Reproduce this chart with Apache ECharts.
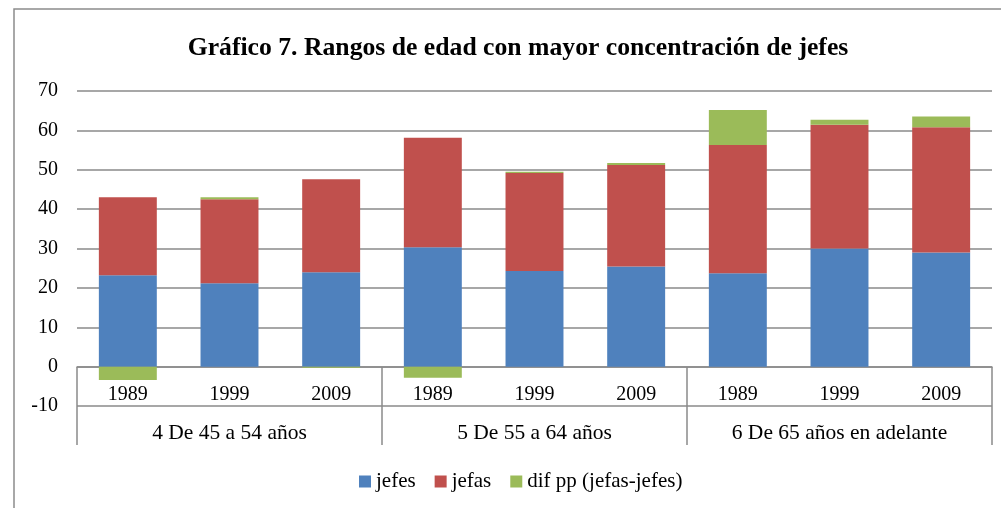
<!DOCTYPE html>
<html>
<head>
<meta charset="utf-8">
<script src="https://cdn.jsdelivr.net/npm/echarts@6/dist/echarts.min.js"></script>
<style>
  html, body { margin: 0; padding: 0; background: #fff; }
  #main { width: 1001px; height: 508px; }
</style>
</head>
<body>
<div id="main"></div>
<script>
var years = ['1989', '1999', '2009', '1989', '1999', '2009', '1989', '1999', '2009'];
var groups = ['4 De 45 a 54 años', '5 De 55 a 64 años', '6 De 65 años en adelante'];
var jefes = [23.2, 21.2, 24.0, 30.3, 24.3, 25.4, 23.7, 30.0, 29.0];
var jefas = [19.8, 21.3, 23.6, 27.8, 24.9, 25.8, 32.6, 31.4, 31.8];
var difpp = [-3.4, 0.5, -0.3, -2.8, 0.3, 0.5, 8.9, 1.3, 2.7];

var serif = '"Liberation Serif", "Times New Roman", serif';
var gridColor = '#8a8a8a';

var myChart = echarts.init(document.getElementById('main'));
var option = {
  backgroundColor: '#fff',
  animation: false,
  title: {
    text: 'Gráfico 7. Rangos de edad con mayor concentración de jefes',
    left: 513,
    textAlign: 'center',
    top: 30,
    textStyle: { fontFamily: serif, fontSize: 25.7, fontWeight: 'bold', color: '#000' }
  },
  legend: {
    data: ['jefes', 'jefas', 'dif pp (jefas-jefes)'],
    left: 354,
    top: 466,
    icon: 'rect',
    itemWidth: 12,
    itemHeight: 12,
    itemGap: 19,
    textStyle: { fontFamily: serif, fontSize: 21, color: '#000' }
  },
  grid: { left: 77, right: 9, top: 91, bottom: 102, containLabel: false },
  xAxis: [
    {
      type: 'category',
      data: years,
      position: 'bottom',
      offset: -39.4,
      axisLine: { onZero: false, lineStyle: { color: gridColor, width: 1.5 } },
      axisTick: { show: false },
      axisLabel: { fontFamily: serif, fontSize: 20, color: '#000', margin: 18 }
    },
    {
      type: 'category',
      data: groups,
      position: 'bottom',
      offset: 39,
      axisLine: { show: false, onZero: false },
      axisTick: { show: true, inside: true, length: 78, lineStyle: { color: gridColor, width: 1.5 } },
      axisLabel: { inside: true, fontFamily: serif, fontSize: 21.5, color: '#000', margin: 1 }
    }
  ],
  yAxis: {
    type: 'value',
    min: -10,
    max: 70,
    interval: 10,
    axisLine: { show: false },
    axisTick: { show: false },
    axisLabel: { fontFamily: serif, fontSize: 20, color: '#000', margin: 19 },
    splitLine: { lineStyle: { color: gridColor, width: 1.5 } }
  },
  series: [
    { name: 'jefes', type: 'bar', stack: 'total', data: jefes, barWidth: '57%', itemStyle: { color: '#4F81BD' } },
    { name: 'jefas', type: 'bar', stack: 'total', data: jefas, barWidth: '57%', itemStyle: { color: '#C0504D' } },
    { name: 'dif pp (jefas-jefes)', type: 'bar', stack: 'total', data: difpp, barWidth: '57%', itemStyle: { color: '#9BBB59' } }
  ],
  graphic: [
    {
      type: 'rect',
      shape: { x: 14, y: 9, width: 1100, height: 600 },
      style: { fill: 'none', stroke: '#8c8c8c', lineWidth: 1.5 },
      silent: true
    }
  ]
};
myChart.setOption(option);
</script>
</body>
</html>
